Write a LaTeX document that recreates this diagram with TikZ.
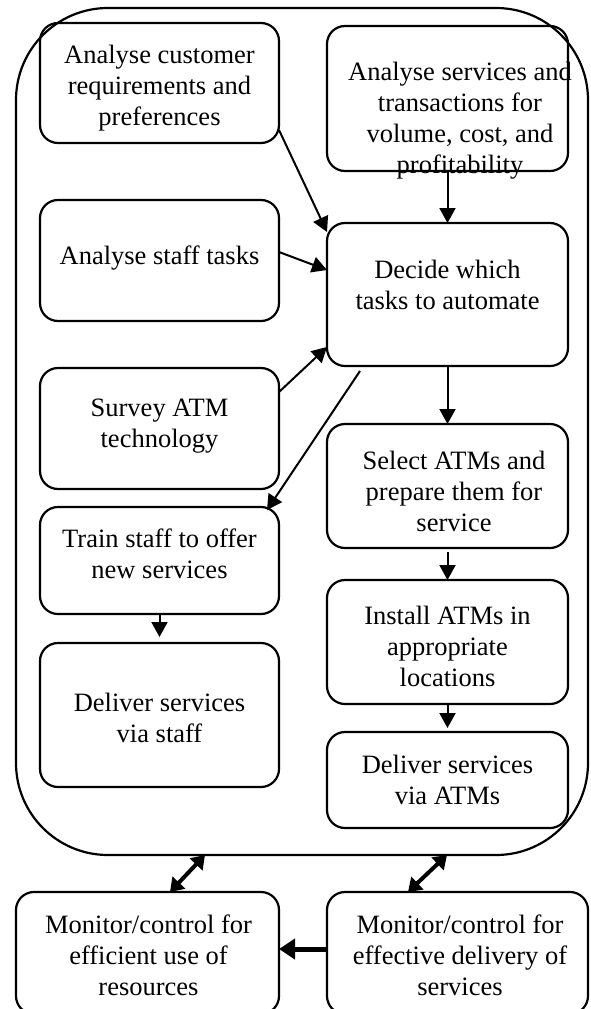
\documentclass[tikz,border=0pt]{standalone}
\usepackage{fontspec}
\setmainfont{Liberation Serif}
\usetikzlibrary{arrows.meta}
\begin{document}
\begin{tikzpicture}[x=1pt,y=-1pt,
  box/.style={draw, line width=2.2pt, rounded corners=18pt, inner sep=0pt, outer sep=0pt, minimum width=239pt},
  wbox/.style={box, minimum width=241pt},
  txt/.style={font=\fontsize{26.5pt}{31pt}\selectfont, align=center, inner sep=0pt},
  arr/.style={line width=2pt, -{Triangle[length=15pt,width=16pt]}},
  darr/.style={line width=4pt, {Triangle[length=13pt,width=17pt]}-{Triangle[length=13pt,width=17pt]}},
  tarr/.style={line width=5pt, -{Triangle[length=16pt,width=20pt]}}]
\useasboundingbox (0,0) rectangle (590,1009);

% outer frame
\node[draw, line width=2.2pt, rounded corners=92pt, inner sep=0pt, outer sep=0pt,
      minimum width=572pt, minimum height=847pt] (outer) at (302,431.5) {};

% left column
\node[box, minimum height=120pt,
  label={[txt,yshift=-5pt]center:{Analyse customer\\requirements and\\preferences}}] (b1) at (159.5,83) {};
\node[box, minimum height=121pt,
  label={[txt,yshift=2.5pt]center:{Analyse staff tasks}}] (b3) at (159.5,260.5) {};
\node[box, minimum height=121pt,
  label={[txt,yshift=2.5pt]center:{Survey ATM\\technology}}] (b4) at (159.5,428.5) {};
\node[box, minimum height=107pt,
  label={[txt,yshift=6.5pt]center:{Train staff to offer\\new services}}] (b9) at (159.5,560.5) {};
\node[box, minimum height=144pt,
  label={[txt,yshift=-2.5pt]center:{Deliver services\\via staff}}] (b10) at (159.5,715) {};

% right column
\node[wbox, minimum height=145pt,
  label={[txt,xshift=12.5pt,yshift=-22.5pt]center:{Analyse services and\\transactions for\\volume, cost, and\\profitability}}] (b2) at (447.5,98.5) {};
\node[wbox, minimum height=143pt,
  label={[txt,yshift=9.5pt]center:{Decide which\\tasks to automate}}] (b5) at (447.5,294.5) {};
\node[wbox, minimum height=124pt,
  label={[txt,xshift=6.5pt,yshift=-5pt]center:{Select ATMs and\\prepare them for\\service}}] (b6) at (447.5,486) {};
\node[wbox, minimum height=124pt,
  label={[txt,yshift=-4pt]center:{Install ATMs in\\appropriate\\locations}}] (b7) at (447.5,642) {};
\node[wbox, minimum height=96pt,
  label={[txt]center:{Deliver services\\via ATMs}}] (b8) at (447.5,780) {};

% bottom boxes
\node[box, minimum width=263pt, minimum height=122pt,
  label={[txt,xshift=1pt,yshift=-2pt]center:{Monitor/control for\\efficient use of\\resources}}] (lb) at (147.5,953) {};
\node[box, minimum width=261pt, minimum height=122pt,
  label={[txt,xshift=2.5pt,yshift=-2pt]center:{Monitor/control for\\effective delivery of\\services}}] (rb) at (457.5,953) {};

% connectors
\draw[arr] ([yshift=-47pt]b1.east) -- ([yshift=-9pt]b5.north west);
\draw[arr] (b2.south) -- (b5.north);
\draw[arr] ([yshift=8.5pt]b3.east) -- ([yshift=24.5pt]b5.west);
\draw[arr] ([yshift=36.5pt]b4.east) -- ([yshift=-52.5pt]b5.west);
\draw[arr] ([xshift=-87.5pt,yshift=-5pt]b5.south) -- ([xshift=-12pt,yshift=-3pt]b9.north east);
\draw[arr] (b5.south) -- (b6.north);
\draw[arr] ([yshift=-4pt]b6.south) -- (b7.north);
\draw[arr] (b7.south) -- ([yshift=4pt]b8.north);
\draw[arr] (b9.south) -- ([yshift=6pt]b10.north);

\draw[darr] ([xshift=-97pt]outer.south) -- ([xshift=22.5pt]lb.north);
\draw[darr] ([xshift=145pt]outer.south) -- ([xshift=-49.5pt]rb.north);
\draw[tarr] ([yshift=4pt]rb.west) -- ([yshift=4pt]lb.east);
\end{tikzpicture}
\end{document}
